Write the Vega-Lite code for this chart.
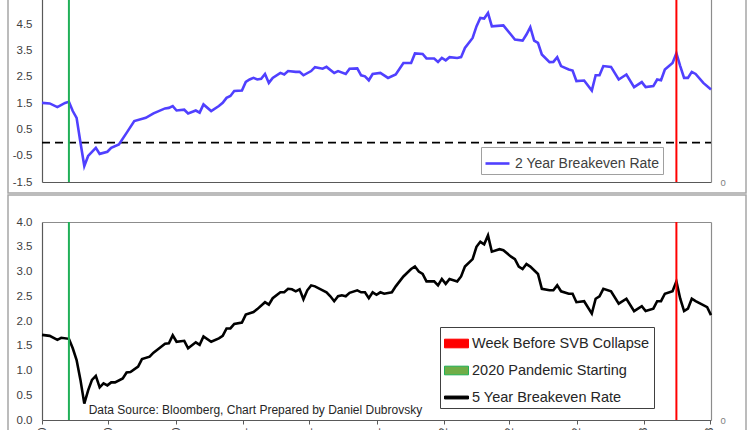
{
  "$schema": "https://vega.github.io/schema/vega-lite/v6.json",
  "padding": {"left": 7, "top": -3, "right": 0, "bottom": 0},
  "background": "white",
  "spacing": 0,
  "datasets": {
    "two_year": [
      {"date":"2020-01-03","v":1.51},{"date":"2020-01-17","v":1.49},{"date":"2020-01-31","v":1.35},{"date":"2020-02-14","v":1.51},
      {"date":"2020-02-21","v":1.55},{"date":"2020-02-28","v":1.20},{"date":"2020-03-06","v":0.94},{"date":"2020-03-13","v":0.00},
      {"date":"2020-03-20","v":-0.89},{"date":"2020-03-27","v":-0.51},{"date":"2020-04-03","v":-0.35},{"date":"2020-04-10","v":-0.20},
      {"date":"2020-04-17","v":-0.43},{"date":"2020-05-01","v":-0.35},{"date":"2020-05-08","v":-0.20},{"date":"2020-05-22","v":-0.07},
      {"date":"2020-06-05","v":0.37},{"date":"2020-06-19","v":0.82},{"date":"2020-07-10","v":0.94},{"date":"2020-07-24","v":1.11},
      {"date":"2020-08-14","v":1.30},{"date":"2020-08-21","v":1.32},{"date":"2020-08-28","v":1.39},{"date":"2020-09-04","v":1.22},
      {"date":"2020-09-18","v":1.25},{"date":"2020-09-25","v":1.11},{"date":"2020-10-09","v":1.22},{"date":"2020-10-16","v":1.14},
      {"date":"2020-10-23","v":1.45},{"date":"2020-11-06","v":1.20},{"date":"2020-11-20","v":1.39},{"date":"2020-11-27","v":1.51},
      {"date":"2020-12-04","v":1.70},{"date":"2020-12-11","v":1.77},{"date":"2020-12-18","v":1.96},{"date":"2021-01-01","v":1.98},
      {"date":"2021-01-08","v":2.31},{"date":"2021-01-15","v":2.40},{"date":"2021-01-22","v":2.46},{"date":"2021-01-29","v":2.40},
      {"date":"2021-02-05","v":2.43},{"date":"2021-02-12","v":2.61},{"date":"2021-02-19","v":2.27},{"date":"2021-02-26","v":2.46},
      {"date":"2021-03-12","v":2.65},{"date":"2021-03-19","v":2.59},{"date":"2021-03-26","v":2.72},{"date":"2021-04-09","v":2.69},
      {"date":"2021-04-16","v":2.69},{"date":"2021-04-23","v":2.56},{"date":"2021-05-07","v":2.72},{"date":"2021-05-14","v":2.87},
      {"date":"2021-05-28","v":2.81},{"date":"2021-06-04","v":2.88},{"date":"2021-06-18","v":2.65},{"date":"2021-06-25","v":2.72},
      {"date":"2021-07-09","v":2.61},{"date":"2021-07-16","v":2.81},{"date":"2021-07-30","v":2.82},{"date":"2021-08-06","v":2.56},
      {"date":"2021-08-13","v":2.52},{"date":"2021-08-20","v":2.37},{"date":"2021-08-27","v":2.61},{"date":"2021-09-10","v":2.65},
      {"date":"2021-09-24","v":2.46},{"date":"2021-10-08","v":2.59},{"date":"2021-10-22","v":3.03},{"date":"2021-11-05","v":3.03},
      {"date":"2021-11-12","v":3.39},{"date":"2021-11-26","v":3.37},{"date":"2021-12-03","v":3.20},{"date":"2021-12-17","v":3.20},
      {"date":"2021-12-24","v":3.07},{"date":"2021-12-31","v":3.22},{"date":"2022-01-07","v":3.13},{"date":"2022-01-14","v":3.25},
      {"date":"2022-01-28","v":3.22},{"date":"2022-02-04","v":3.25},{"date":"2022-02-11","v":3.60},{"date":"2022-02-25","v":3.98},
      {"date":"2022-03-04","v":4.42},{"date":"2022-03-11","v":4.74},{"date":"2022-03-18","v":4.72},{"date":"2022-03-25","v":4.93},
      {"date":"2022-04-01","v":4.42},{"date":"2022-04-22","v":4.46},{"date":"2022-05-13","v":3.92},{"date":"2022-05-27","v":3.88},
      {"date":"2022-06-03","v":4.11},{"date":"2022-06-10","v":4.39},{"date":"2022-06-17","v":3.88},{"date":"2022-06-24","v":3.79},
      {"date":"2022-07-01","v":3.35},{"date":"2022-07-15","v":3.06},{"date":"2022-07-22","v":3.07},{"date":"2022-07-29","v":3.25},
      {"date":"2022-08-05","v":2.91},{"date":"2022-08-19","v":2.78},{"date":"2022-08-26","v":2.74},{"date":"2022-09-02","v":2.34},
      {"date":"2022-09-16","v":2.36},{"date":"2022-09-30","v":1.98},{"date":"2022-10-07","v":2.56},{"date":"2022-10-14","v":2.56},
      {"date":"2022-10-21","v":2.91},{"date":"2022-11-04","v":2.88},{"date":"2022-11-18","v":2.40},{"date":"2022-12-02","v":2.59},
      {"date":"2022-12-16","v":2.11},{"date":"2022-12-30","v":2.30},{"date":"2023-01-06","v":2.11},{"date":"2023-01-20","v":2.15},
      {"date":"2023-01-27","v":2.40},{"date":"2023-02-03","v":2.37},{"date":"2023-02-10","v":2.78},{"date":"2023-02-24","v":3.03},
      {"date":"2023-03-03","v":3.40},{"date":"2023-03-10","v":2.91},{"date":"2023-03-17","v":2.46},{"date":"2023-03-24","v":2.46},
      {"date":"2023-03-31","v":2.69},{"date":"2023-04-07","v":2.61},{"date":"2023-04-21","v":2.27},{"date":"2023-05-05","v":2.02}
    ],
    "five_year": [
      {"date":"2020-01-03","v":1.72},{"date":"2020-01-17","v":1.70},{"date":"2020-01-31","v":1.62},{"date":"2020-02-07","v":1.66},
      {"date":"2020-02-21","v":1.64},{"date":"2020-02-28","v":1.45},{"date":"2020-03-06","v":1.21},{"date":"2020-03-13","v":0.81},
      {"date":"2020-03-20","v":0.33},{"date":"2020-03-27","v":0.60},{"date":"2020-04-03","v":0.81},{"date":"2020-04-10","v":0.89},
      {"date":"2020-04-17","v":0.66},{"date":"2020-04-24","v":0.74},{"date":"2020-05-01","v":0.70},{"date":"2020-05-08","v":0.76},
      {"date":"2020-05-15","v":0.76},{"date":"2020-05-29","v":0.84},{"date":"2020-06-05","v":0.96},{"date":"2020-06-12","v":0.97},
      {"date":"2020-06-26","v":1.08},{"date":"2020-07-03","v":1.23},{"date":"2020-07-17","v":1.28},{"date":"2020-07-24","v":1.36},
      {"date":"2020-07-31","v":1.42},{"date":"2020-08-14","v":1.54},{"date":"2020-08-21","v":1.55},{"date":"2020-08-28","v":1.71},
      {"date":"2020-09-04","v":1.58},{"date":"2020-09-18","v":1.60},{"date":"2020-09-25","v":1.45},{"date":"2020-10-09","v":1.57},
      {"date":"2020-10-16","v":1.52},{"date":"2020-10-23","v":1.69},{"date":"2020-11-06","v":1.58},{"date":"2020-11-20","v":1.65},
      {"date":"2020-11-27","v":1.70},{"date":"2020-12-04","v":1.85},{"date":"2020-12-11","v":1.85},{"date":"2020-12-18","v":1.94},
      {"date":"2021-01-01","v":1.97},{"date":"2021-01-08","v":2.13},{"date":"2021-01-22","v":2.18},{"date":"2021-01-29","v":2.24},
      {"date":"2021-02-12","v":2.38},{"date":"2021-02-19","v":2.33},{"date":"2021-02-26","v":2.46},{"date":"2021-03-12","v":2.58},
      {"date":"2021-03-19","v":2.58},{"date":"2021-03-26","v":2.65},{"date":"2021-04-02","v":2.64},{"date":"2021-04-09","v":2.60},
      {"date":"2021-04-16","v":2.64},{"date":"2021-04-23","v":2.44},{"date":"2021-04-30","v":2.62},{"date":"2021-05-07","v":2.72},
      {"date":"2021-05-14","v":2.70},{"date":"2021-05-28","v":2.62},{"date":"2021-06-04","v":2.58},{"date":"2021-06-11","v":2.50},
      {"date":"2021-06-18","v":2.40},{"date":"2021-06-25","v":2.50},{"date":"2021-07-02","v":2.52},{"date":"2021-07-09","v":2.50},
      {"date":"2021-07-16","v":2.57},{"date":"2021-07-30","v":2.62},{"date":"2021-08-06","v":2.58},{"date":"2021-08-13","v":2.58},
      {"date":"2021-08-20","v":2.46},{"date":"2021-08-27","v":2.58},{"date":"2021-09-03","v":2.53},{"date":"2021-09-10","v":2.58},
      {"date":"2021-09-17","v":2.55},{"date":"2021-10-01","v":2.58},{"date":"2021-10-08","v":2.70},{"date":"2021-10-22","v":2.90},
      {"date":"2021-11-05","v":3.05},{"date":"2021-11-12","v":3.10},{"date":"2021-11-19","v":3.00},{"date":"2021-11-26","v":2.95},
      {"date":"2021-12-03","v":2.80},{"date":"2021-12-17","v":2.80},{"date":"2021-12-24","v":2.72},{"date":"2021-12-31","v":2.85},
      {"date":"2022-01-07","v":2.75},{"date":"2022-01-14","v":2.85},{"date":"2022-01-28","v":2.80},{"date":"2022-02-04","v":2.90},
      {"date":"2022-02-11","v":3.10},{"date":"2022-02-25","v":3.25},{"date":"2022-03-04","v":3.50},{"date":"2022-03-11","v":3.60},
      {"date":"2022-03-18","v":3.55},{"date":"2022-03-25","v":3.73},{"date":"2022-04-01","v":3.40},{"date":"2022-04-15","v":3.45},
      {"date":"2022-04-22","v":3.43},{"date":"2022-05-06","v":3.30},{"date":"2022-05-13","v":3.25},{"date":"2022-05-20","v":3.10},
      {"date":"2022-05-27","v":3.05},{"date":"2022-06-03","v":3.15},{"date":"2022-06-10","v":3.10},{"date":"2022-06-24","v":2.95},
      {"date":"2022-07-01","v":2.65},{"date":"2022-07-15","v":2.62},{"date":"2022-07-22","v":2.62},{"date":"2022-07-29","v":2.72},
      {"date":"2022-08-05","v":2.60},{"date":"2022-08-19","v":2.55},{"date":"2022-08-26","v":2.55},{"date":"2022-09-02","v":2.38},
      {"date":"2022-09-16","v":2.40},{"date":"2022-09-30","v":2.15},{"date":"2022-10-07","v":2.45},{"date":"2022-10-14","v":2.50},
      {"date":"2022-10-21","v":2.65},{"date":"2022-11-04","v":2.60},{"date":"2022-11-18","v":2.35},{"date":"2022-12-02","v":2.45},
      {"date":"2022-12-16","v":2.20},{"date":"2022-12-30","v":2.30},{"date":"2023-01-06","v":2.20},{"date":"2023-01-20","v":2.25},
      {"date":"2023-01-27","v":2.40},{"date":"2023-02-03","v":2.40},{"date":"2023-02-10","v":2.55},{"date":"2023-02-24","v":2.60},
      {"date":"2023-03-03","v":2.80},{"date":"2023-03-10","v":2.45},{"date":"2023-03-17","v":2.20},{"date":"2023-03-24","v":2.25},
      {"date":"2023-03-31","v":2.45},{"date":"2023-04-07","v":2.40},{"date":"2023-04-21","v":2.32},{"date":"2023-04-28","v":2.28},
      {"date":"2023-05-05","v":2.12}
    ],
    "events": [
      {"date":"2020-02-21","series":"2020 Pandemic Starting"},
      {"date":"2023-03-03","series":"Week Before SVB Collapse"}
    ],
    "zero": [{"level": 0}],
    "note": [{"note": "Data Source: Bloomberg, Chart Prepared by Daniel Dubrovsky"}]
  },
  "vconcat": [
    {
      "width": 738,
      "height": 194,
      "layer": [
        {
          "layer": [
            {
              "data": {"name": "zero"},
              "mark": {"type": "rule", "color": "#000000", "strokeWidth": 1.8, "strokeDash": [8, 5]},
              "encoding": {
                "x": {"datum": {"year": 2020, "month": 1, "date": 3, "utc": true}, "type": "temporal"},
                "x2": {"datum": {"year": 2023, "month": 5, "date": 5, "utc": true}},
                "y": {
                  "field": "level", "type": "quantitative",
                  "axis": {"orient": "left", "offset": -34, "values": [-1.5, -0.5, 0.5, 1.5, 2.5, 3.5, 4.5], "format": ".1f", "labelPadding": 10, "labelOverlap": false, "labelSeparation": 0, "title": null, "domainColor": "#595959"}
                }
              }
            },
            {
              "data": {"name": "two_year"},
              "transform": [{"calculate": "'2 Year Breakeven Rate'", "as": "series"}],
              "mark": {"type": "line", "strokeWidth": 2.6},
              "encoding": {
                "x": {
                  "field": "date", "type": "temporal",
                  "scale": {"type": "utc", "domain": [{"year": 2020, "month": 1, "date": 3, "utc": true}, {"year": 2023, "month": 5, "date": 5, "utc": true}], "range": [34, 703]},
                  "axis": {"orient": "bottom", "offset": -11, "ticks": false, "labels": false, "title": null, "domainColor": "#595959"}
                },
                "y": {
                  "field": "v", "type": "quantitative",
                  "scale": {"domain": [-1.5, 5.5], "range": [183, -1], "nice": false, "zero": false},
                  "axis": {"orient": "left", "offset": -34, "values": [-1.5, -0.5, 0.5, 1.5, 2.5, 3.5, 4.5], "format": ".1f", "labelPadding": 10, "labelOverlap": false, "labelSeparation": 0, "title": null, "domainColor": "#595959"}
                },
                "color": {
                  "field": "series", "type": "nominal",
                  "scale": {"domain": ["2 Year Breakeven Rate"], "range": ["#5040ff"]},
                  "legend": {
                    "orient": "none", "legendX": 473, "legendY": 148, "title": null,
                    "padding": 3, "strokeColor": "#a0a0a0", "fillColor": "#ffffff",
                    "labelFontSize": 14, "labelColor": "#404040", "labelOffset": 4, "labelLimit": 300,
                    "symbolType": "stroke", "symbolSize": 576, "symbolStrokeWidth": 2.6
                  }
                }
              }
            }
          ]
        },
        {
          "data": {"name": "events"},
          "mark": {"type": "rule", "strokeWidth": 2},
          "encoding": {
            "x": {
              "field": "date", "type": "temporal",
              "scale": {"type": "utc", "domain": [{"year": 2020, "month": 1, "date": 3, "utc": true}, {"year": 2023, "month": 5, "date": 5, "utc": true}], "range": [34, 703]},
              "axis": null
            },
            "y": {
              "datum": 0, "type": "quantitative",
              "scale": {"domain": [0, 1], "range": [183, 0], "nice": false},
              "axis": {"orient": "right", "offset": -35, "values": [0], "labelPadding": 9, "domainColor": "#8c8c8c", "labelColor": "#808080", "labelFontSize": 9.5, "title": null}
            },
            "y2": {"datum": 1},
            "color": {
              "field": "series", "type": "nominal",
              "scale": {"domain": ["Week Before SVB Collapse", "2020 Pandemic Starting"], "range": ["#ff0000", "#20b058"]},
              "legend": null
            }
          }
        }
      ],
      "resolve": {
        "scale": {"x": "independent", "y": "independent", "color": "independent"},
        "axis": {"x": "independent", "y": "independent"},
        "legend": {"color": "independent"}
      }
    },
    {
      "width": 738,
      "height": 260,
      "layer": [
        {
          "layer": [
            {
              "data": {"name": "five_year"},
              "transform": [{"calculate": "'5 Year Breakeven Rate'", "as": "series"}],
              "mark": {"type": "line", "strokeWidth": 2.6},
              "encoding": {
                "x": {
                  "field": "date", "type": "temporal",
                  "scale": {"type": "utc", "domain": [{"year": 2020, "month": 1, "date": 3, "utc": true}, {"year": 2023, "month": 5, "date": 5, "utc": true}], "range": [34, 703]},
                  "axis": {
                    "orient": "bottom", "offset": -35, "title": null, "domainColor": "#595959",
                    "ticks": true, "tickSize": 4, "tickColor": "#595959",
                    "labelAngle": -90, "labelPadding": 3, "labelFontSize": 11, "labelOverlap": false, "format": "%-m/%-d/%Y",
                    "values": [
                      {"year": 2020, "month": 1, "date": 3, "utc": true}, {"year": 2020, "month": 3, "date": 3, "utc": true},
                      {"year": 2020, "month": 5, "date": 3, "utc": true}, {"year": 2020, "month": 7, "date": 3, "utc": true},
                      {"year": 2020, "month": 9, "date": 3, "utc": true}, {"year": 2020, "month": 11, "date": 3, "utc": true},
                      {"year": 2021, "month": 1, "date": 3, "utc": true}, {"year": 2021, "month": 3, "date": 3, "utc": true},
                      {"year": 2021, "month": 5, "date": 3, "utc": true}, {"year": 2021, "month": 7, "date": 3, "utc": true},
                      {"year": 2021, "month": 9, "date": 3, "utc": true}, {"year": 2021, "month": 11, "date": 3, "utc": true},
                      {"year": 2022, "month": 1, "date": 3, "utc": true}, {"year": 2022, "month": 3, "date": 3, "utc": true},
                      {"year": 2022, "month": 5, "date": 3, "utc": true}, {"year": 2022, "month": 7, "date": 3, "utc": true},
                      {"year": 2022, "month": 9, "date": 3, "utc": true}, {"year": 2022, "month": 11, "date": 3, "utc": true},
                      {"year": 2023, "month": 1, "date": 3, "utc": true}, {"year": 2023, "month": 3, "date": 3, "utc": true},
                      {"year": 2023, "month": 5, "date": 3, "utc": true}
                    ]
                  }
                },
                "y": {
                  "field": "v", "type": "quantitative",
                  "scale": {"domain": [0, 4], "range": [225, 27], "nice": false, "zero": false},
                  "axis": {"orient": "left", "offset": -34, "values": [0, 0.5, 1, 1.5, 2, 2.5, 3, 3.5, 4], "format": ".1f", "labelPadding": 10, "labelOverlap": false, "labelSeparation": 0, "title": null, "domainColor": "#595959"}
                },
                "color": {
                  "field": "series", "type": "nominal",
                  "scale": {"domain": ["Week Before SVB Collapse", "2020 Pandemic Starting", "5 Year Breakeven Rate"], "range": ["#ff0000", "#20b058", "#000000"]},
                  "legend": {
                    "orient": "none", "legendX": 432, "legendY": 132, "title": null,
                    "padding": 4, "strokeColor": "#404040", "fillColor": "#ffffff",
                    "labelFontSize": 14.5, "labelColor": "#262626", "labelOffset": 3, "labelLimit": 300,
                    "symbolSize": 576, "rowPadding": 8,
                    "encode": {
                      "symbols": {
                        "update": {
                          "shape": {"signal": "datum.value === '5 Year Breakeven Rate' ? 'M-1,-0.12H1V0.12H-1Z' : 'M-1,-0.36H1V0.36H-1Z'"},
                          "fill": {"signal": "datum.value === '5 Year Breakeven Rate' ? '#000000' : (datum.value === '2020 Pandemic Starting' ? '#70ad47' : '#ff0000')"},
                          "stroke": {"signal": "datum.value === '2020 Pandemic Starting' ? '#3ccf6a' : (datum.value === '5 Year Breakeven Rate' ? '#000000' : '#ff0000')"},
                          "strokeWidth": {"value": 1},
                          "fillOpacity": {"value": 1},
                          "strokeOpacity": {"value": 1},
                          "opacity": {"value": 1}
                        }
                      }
                    }
                  }
                }
              }
            },
            {
              "data": {"name": "note"},
              "mark": {"type": "text", "align": "left", "baseline": "middle", "fontSize": 12, "color": "#262626"},
              "encoding": {
                "x": {"datum": {"year": 2020, "month": 3, "date": 28, "utc": true}, "type": "temporal"},
                "y": {
                  "datum": 0.2, "type": "quantitative",
                  "axis": {"orient": "left", "offset": -34, "values": [0, 0.5, 1, 1.5, 2, 2.5, 3, 3.5, 4], "format": ".1f", "labelPadding": 10, "labelOverlap": false, "labelSeparation": 0, "title": null, "domainColor": "#595959"}
                },
                "text": {"field": "note"}
              }
            }
          ]
        },
        {
          "data": {"name": "events"},
          "mark": {"type": "rule", "strokeWidth": 2},
          "encoding": {
            "x": {
              "field": "date", "type": "temporal",
              "scale": {"type": "utc", "domain": [{"year": 2020, "month": 1, "date": 3, "utc": true}, {"year": 2023, "month": 5, "date": 5, "utc": true}], "range": [34, 703]},
              "axis": {"orient": "top", "offset": -27, "ticks": false, "labels": false, "title": null, "domainColor": "#8c8c8c"}
            },
            "y": {
              "datum": 0, "type": "quantitative",
              "scale": {"domain": [0, 1], "range": [225, 27], "nice": false},
              "axis": {"orient": "right", "offset": -35, "values": [0], "labelPadding": 9, "domainColor": "#8c8c8c", "labelColor": "#808080", "labelFontSize": 9.5, "title": null}
            },
            "y2": {"datum": 1},
            "color": {"field": "series", "type": "nominal"}
          }
        }
      ],
      "resolve": {
        "scale": {"x": "independent", "y": "independent"},
        "axis": {"x": "independent", "y": "independent"}
      }
    }
  ],
  "resolve": {
    "scale": {"x": "independent", "y": "independent", "color": "independent"},
    "axis": {"x": "independent", "y": "independent"},
    "legend": {"color": "independent"}
  },
  "config": {
    "font": "Liberation Sans",
    "view": {"stroke": "#a6a6a6", "strokeWidth": 1.5},
    "axis": {"grid": false, "ticks": false, "labelOverlap": false, "labelFont": "Liberation Sans", "labelFontSize": 11.5, "labelColor": "#404040", "domainColor": "#595959", "domainWidth": 1.2},
    "legend": {"labelFont": "Liberation Sans"},
    "locale": {"number": {"decimal": ".", "thousands": ",", "grouping": [3], "currency": ["$", ""], "minus": "-"}}
  }
}
